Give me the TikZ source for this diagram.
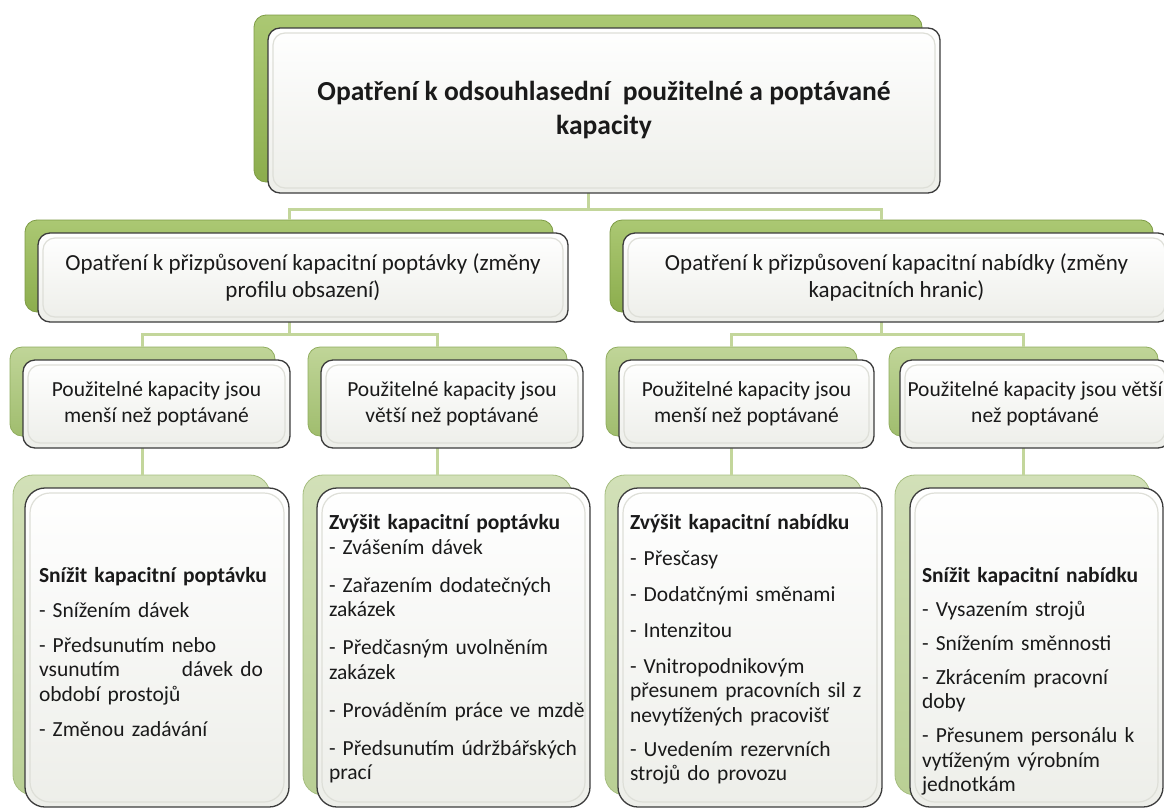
\documentclass[tikz,border=0pt]{standalone}
\usepackage{fontspec}
\setmainfont{Carlito}
\usetikzlibrary{calc}

\definecolor{linkgreen}{HTML}{C3D69B}
\definecolor{bgtopA}{HTML}{ABC873}
\definecolor{bgbotA}{HTML}{8CAD4D}
\definecolor{bgedgeA}{HTML}{7D9B45}
\definecolor{bgtopB}{HTML}{C0D598}
\definecolor{bgbotB}{HTML}{A0BD6E}
\definecolor{bgedgeB}{HTML}{90AD5E}
\definecolor{bgtopC}{HTML}{D2E0B8}
\definecolor{bgbotC}{HTML}{B9CF94}
\definecolor{bgedgeC}{HTML}{A6BE80}
\definecolor{cardedge}{HTML}{3C3C3C}
\definecolor{cardbot}{HTML}{EDEEE9}
\definecolor{bevel}{HTML}{DEDFD8}
\definecolor{ink}{HTML}{1A1A1A}

\tikzset{
  every node/.style={inner sep=0pt, outer sep=0pt, text=ink},
  link/.style={draw=linkgreen, line width=3pt},
  backA/.style={rounded corners=#1, draw=bgedgeA, line width=0.8pt,
                top color=bgtopA, bottom color=bgbotA},
  backA/.default=12pt,
  backB/.style={rounded corners=#1, draw=bgedgeB, line width=0.8pt,
                top color=bgtopB, bottom color=bgbotB},
  backB/.default=12pt,
  backC/.style={rounded corners=#1, draw=bgedgeC, line width=0.8pt,
                top color=bgtopC, bottom color=bgbotC},
  backC/.default=20pt,
  card/.style={rounded corners=#1, draw=cardedge, line width=1.3pt,
               top color=white, bottom color=cardbot, align=center,
               path picture={\draw[bevel, line width=1.2pt, rounded corners=#1]
                 ($(path picture bounding box.south west)+(5pt,5pt)$) rectangle
                 ($(path picture bounding box.north east)+(-5pt,-5pt)$);}},
  card/.default=12pt,
  titlefont/.style={font=\fontsize{27.5pt}{34pt}\selectfont\bfseries},
  midfont/.style={font=\fontsize{23pt}{27pt}\selectfont},
  smallfont/.style={font=\fontsize{21.5pt}{26pt}\selectfont},
  listtext/.style={anchor=base west, align=left, text width=285pt,
                   font=\fontsize{21.5pt}{24.5pt}\selectfont},
}

\begin{document}
\begin{tikzpicture}[x=1pt, y=-1pt]
\useasboundingbox (0,0) rectangle (1164,809);
\fill[white] (0,0) rectangle (1164,809);

% green backing plates
\node[backA, minimum width=668pt, minimum height=167pt] (l1-bg) at (588,98.5) {};
\node[backA, minimum width=528pt, minimum height=92pt] (l2a-bg) at (289,266) {};
\node[backA, minimum width=543pt, minimum height=92pt] (l2b-bg) at (881.5,266) {};
\node[backB, minimum width=265pt, minimum height=89pt] (l3a-bg) at (142.5,391.5) {};
\node[backB, minimum width=259pt, minimum height=89pt] (l3b-bg) at (437.5,391.5) {};
\node[backB, minimum width=251pt, minimum height=89pt] (l3c-bg) at (731.5,391.5) {};
\node[backB, minimum width=269pt, minimum height=89pt] (l3d-bg) at (1023.5,391.5) {};
\node[backC, minimum width=257pt, minimum height=320pt] (l4a-bg) at (141.5,635) {};
\node[backC, minimum width=269pt, minimum height=320pt] (l4b-bg) at (437.5,635) {};
\node[backC, minimum width=257pt, minimum height=320pt] (l4c-bg) at (733.5,635) {};
\node[backC, minimum width=255pt, minimum height=320pt] (l4d-bg) at (1022.5,635) {};

% connectors
\draw[link] (l1-bg.south) -- ++(0,27) -| (l2a-bg.north);
\draw[link] (l1-bg.south) -- ++(0,27) -| (l2b-bg.north);
\draw[link] (l2a-bg.south) -- ++(0,22) -| (l3a-bg.north);
\draw[link] (l2a-bg.south) -- ++(0,22) -| (l3b-bg.north);
\draw[link] (l2b-bg.south) -- ++(0,22) -| (l3c-bg.north);
\draw[link] (l2b-bg.south) -- ++(0,22) -| (l3d-bg.north);
\draw[link] (l3a-bg.south) -- (l3a-bg.south |- l4a-bg.north);
\draw[link] (l3b-bg.south) -- (l3b-bg.south |- l4b-bg.north);
\draw[link] (l3c-bg.south) -- (l3c-bg.south |- l4c-bg.north);
\draw[link] (l3d-bg.south) -- (l3d-bg.south |- l4d-bg.north);

% front cards
\node[card, titlefont, minimum width=672pt, minimum height=165pt] (l1) at (604,110.5)
  {Opatření k odsouhlasední\ \ použitelné a poptávané\\kapacity};
\node[card, midfont, minimum width=530pt, minimum height=89pt] (l2a) at (303,277.5)
  {Opatření k přizpůsovení kapacitní poptávky (změny\\profilu obsazení)};
\node[card, midfont, minimum width=547pt, minimum height=89pt] (l2b) at (896.5,277.5)
  {Opatření k přizpůsovení kapacitní nabídky (změny\\kapacitních hranic)};
\node[card, smallfont, minimum width=267pt, minimum height=88pt] (l3a) at (156.5,404)
  {Použitelné kapacity jsou\\menší než poptávané};
\node[card, smallfont, minimum width=262pt, minimum height=88pt] (l3b) at (452,404)
  {Použitelné kapacity jsou\\větší než poptávané};
\node[card, smallfont, minimum width=255pt, minimum height=88pt] (l3c) at (746.5,404)
  {Použitelné kapacity jsou\\menší než poptávané};
\node[card, smallfont, minimum width=270pt, minimum height=88pt] (l3d) at (1035,404)
  {Použitelné kapacity jsou větší\\než poptávané};
\node[card=20pt, minimum width=264pt, minimum height=319pt] (l4a) at (157,647.5) {};
\node[card=20pt, minimum width=273pt, minimum height=319pt] (l4b) at (453.5,647.5) {};
\node[card=20pt, minimum width=264pt, minimum height=319pt] (l4c) at (750,647.5) {};
\node[card=20pt, minimum width=253pt, minimum height=319pt] (l4d) at (1036.5,647.5) {};

% lists of measures
\node[listtext] (l4a-text) at (39,582) {%
  \textbf{Snížit kapacitní poptávku}\\[10.5pt]
  - Snížením dávek\\[10.5pt]
  - Předsunutím nebo\\
  \leavevmode\hbox to 224pt{vsunutím\hfill dávek do}\\
  období prostojů\\[10.5pt]
  - Změnou zadávání};
\node[listtext] (l4b-text) at (329,529) {%
  \textbf{Zvýšit kapacitní poptávku}\\[0.5pt]
  - Zvášením dávek\\[13.5pt]
  - Zařazením dodatečných\\
  zakázek\\[13.5pt]
  - Předčasným uvolněním\\
  zakázek\\[13.5pt]
  - Prováděním práce ve mzdě\\[13.5pt]
  - Předsunutím údržbářských\\
  prací};
\node[listtext] (l4c-text) at (630,529) {%
  \textbf{Zvýšit kapacitní nabídku}\\[11.5pt]
  - Přesčasy\\[11.5pt]
  - Dodatčnými směnami\\[11.5pt]
  - Intenzitou\\[11.5pt]
  - Vnitropodnikovým\\
  přesunem pracovních sil z\\
  nevytížených pracovišť\\[9.5pt]
  - Uvedením rezervních\\
  strojů do provozu};
\node[listtext] (l4d-text) at (922,582) {%
  \textbf{Snížit kapacitní nabídku}\\[9.5pt]
  - Vysazením strojů\\[9.5pt]
  - Snížením směnnosti\\[9.5pt]
  - Zkrácením pracovní\\
  doby\\[9.5pt]
  - Přesunem personálu k\\
  vytíženým výrobním\\
  jednotkám};
\end{tikzpicture}
\end{document}
